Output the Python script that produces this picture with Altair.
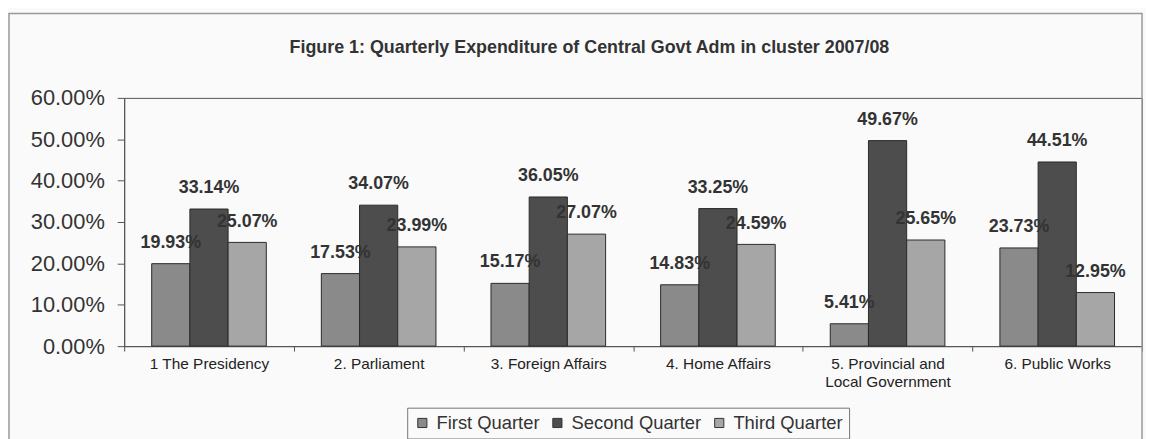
import altair as alt
import pandas as pd

categories = ["1 The Presidency", "2. Parliament", "3. Foreign Affairs",
              "4. Home Affairs", "5. Provincial and Local Government", "6. Public Works"]
quarters = ["First Quarter", "Second Quarter", "Third Quarter"]
first_q = [0.1993, 0.1753, 0.1517, 0.1483, 0.0541, 0.2373]
second_q = [0.3314, 0.3407, 0.3605, 0.3325, 0.4967, 0.4451]
third_q = [0.2507, 0.2399, 0.2707, 0.2459, 0.2565, 0.1295]
colors = ["#8a8a8a", "#4d4d4d", "#a6a6a6"]

rows = []
for i, c in enumerate(categories):
    for q, vals in zip(quarters, [first_q, second_q, third_q]):
        rows.append({"Department": c, "Quarter": q, "Share": vals[i]})
df = pd.DataFrame(rows)

FONT = "Liberation Sans"

x_enc = alt.X("Department:N", sort=categories,
              scale=alt.Scale(paddingInner=0, paddingOuter=0),
              axis=alt.Axis(title=None, labelAngle=0, labelFontSize=15.5, labelColor="#222",
                            tickBand="extent", tickSize=5, tickColor="#555",
                            domainColor="#555", labelPadding=6,
                            labelExpr="datum.value == '5. Provincial and Local Government' ? ['5. Provincial and', 'Local Government'] : datum.value"))
xo_enc = alt.XOffset("Quarter:N", sort=quarters,
                     scale=alt.Scale(paddingInner=0, paddingOuter=0.72))
y_enc = alt.Y("Share:Q", scale=alt.Scale(domain=[0, 0.6]),
              axis=alt.Axis(title=None, format=".2%", values=[0, 0.1, 0.2, 0.3, 0.4, 0.5, 0.6],
                            grid=False, labelFontSize=22, labelColor="#333",
                            tickSize=7, tickColor="#555", domainColor="#555", labelPadding=13))

base = alt.Chart(df)

bars = base.mark_bar(stroke="#2a2a2a", strokeWidth=1).encode(
    x=x_enc, xOffset=xo_enc, y=y_enc,
    color=alt.Color("Quarter:N", sort=quarters,
                    scale=alt.Scale(domain=quarters, range=colors),
                    legend=alt.Legend(title=None, orient="none", direction="horizontal",
                                      legendX=285, legendY=312, strokeColor="#777",
                                      padding=6, symbolType="square", symbolSize=85,
                                      symbolStrokeColor="#333", symbolStrokeWidth=1,
                                      labelFontSize=18.5, labelColor="#333", columnPadding=8,
                                      symbolOffset=0, labelOffset=5, fillColor="#fafafa"))
)

labels = base.mark_text(fontSize=18, fontWeight="bold", color="#333", dy=-12, baseline="bottom").encode(
    x=x_enc, xOffset=xo_enc, y=y_enc,
    text=alt.Text("Share:Q", format=".2%")
)

frame = alt.Chart(alt.Data(values=[{"a": 1}])).mark_rect(
    fill="transparent", stroke="#999", strokeWidth=1.5
).encode(x=alt.value(-116), x2=alt.value(1025), y=alt.value(-85), y2=alt.value(360))

chart = alt.layer(frame, bars, labels).properties(
    width=1025, height=250,
    autosize=alt.AutoSizeParams(type="none"),
    padding={"left": 117, "top": 89, "right": 4, "bottom": 92},
    background="#fafafa",
    title=alt.TitleParams("Figure 1: Quarterly Expenditure of Central Govt Adm in cluster 2007/08",
                          fontSize=18, fontWeight="bold", color="#333", font=FONT,
                          anchor="middle", dx=-44, offset=-54, baseline="middle")
).configure(font=FONT).configure_view(stroke="#555", strokeWidth=1)

chart.save("out.html", embed_options={"renderer": "svg", "actions": False})
